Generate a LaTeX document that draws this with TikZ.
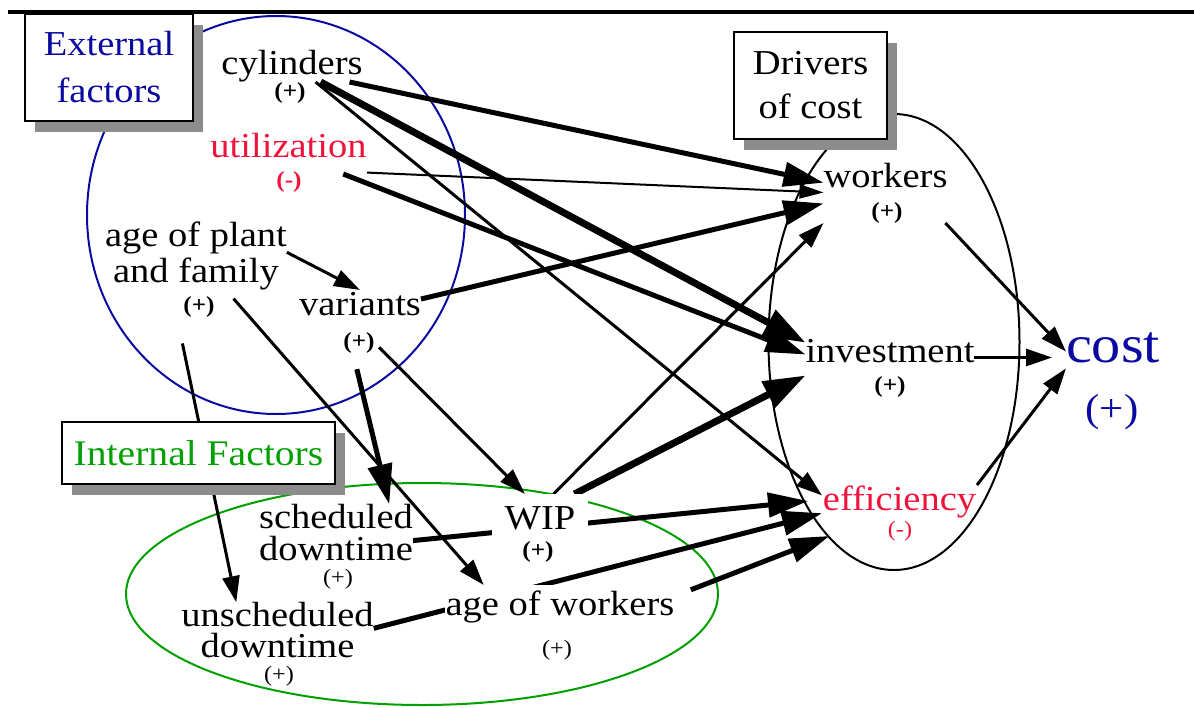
\documentclass[tikz,border=0pt]{standalone}
\usepackage{fontspec}
\setmainfont[FakeStretch=1.1]{Liberation Serif}
\usepackage{xcolor}
\usetikzlibrary{arrows.meta, backgrounds, shadows}
\definecolor{extblue}{HTML}{0A0AA0}
\definecolor{intgreen}{HTML}{00A000}
\definecolor{negred}{HTML}{F0143C}
\definecolor{shadowgray}{HTML}{8C8C8C}

\begin{document}
\begin{tikzpicture}[
  x=1pt, y=-1pt,
  factor/.style={inner sep=0pt, outer sep=0pt, anchor=base, font=\fontsize{35}{36}\selectfont, text height=25pt, text depth=8pt},
  factorml/.style={inner sep=0pt, outer sep=0pt, align=center},
  signtxt/.style={inner sep=0pt, font=\fontsize{23}{24}\selectfont\bfseries},
  plainsign/.style={inner sep=0pt, font=\fontsize{22}{24}\selectfont},
  labelbox/.style={draw, line width=2.5pt, fill=white, inner sep=0pt, align=center,
    drop shadow={shadow xshift=10pt, shadow yshift=-11pt, fill=shadowgray, opacity=1}},
  thinlink/.style={-{Triangle[length=24pt, width=14pt]}, line width=2pt},
  midlink/.style={-{Triangle[length=26pt, width=17pt]}, line width=3pt},
  thicklink/.style={-{Triangle[length=40pt, width=24pt]}, line width=5pt},
  heavylink/.style={-{Triangle[length=42pt, width=28pt]}, line width=7pt},
]
\useasboundingbox (0,0) rectangle (1194,707);
\draw[line width=3.5pt] (8,12) -- (1194,12);

\node[labelbox, minimum width=168pt, minimum height=107pt, text=extblue, font=\fontsize{35}{47}\selectfont] (ext) at (109,67.5) {External\\factors};
\node[labelbox, minimum width=153pt, minimum height=107pt, font=\fontsize{35}{44}\selectfont] (drv) at (810.5,85.5) {Drivers\\of cost};
\node[labelbox, minimum width=273pt, minimum height=62pt, text=intgreen, font=\fontsize{36}{40}\selectfont] (int) at (198.5,453) {Internal Factors};

\node[factor, minimum width=140pt] (cyl) at (292,74) {cylinders};
\node[signtxt] (cylsg) at (290,93) {(+)};
\node[factor, minimum width=157pt, text depth=17pt, text=negred] (util) at (288.5,157) {utilization};
\node[signtxt, text=negred] (utilsg) at (289,182) {(-)};
\node[factorml, font=\fontsize{35}{36}\selectfont] (plant) at (196,255.5) {age of plant\\and family};
\node[signtxt] (plantsg) at (199,307) {(+)};
\node[factor, minimum width=120pt] (var) at (360,315) {variants};
\node[signtxt] (varsg) at (359,343) {(+)};

\node[factor, minimum width=123pt, text depth=36pt] (workers) at (885.5,187) {workers};
\node[signtxt] (workerssg) at (887,213) {(+)};
\node[factor, minimum width=168pt, text depth=16pt] (inv) at (890,362) {investment};
\node[signtxt] (invsg) at (890,387) {(+)};
\node[factor, minimum width=155pt, text depth=26pt, text=negred] (eff) at (899.5,510) {efficiency};
\node[plainsign, text=negred] (effsg) at (900,531) {(-)};
\node[factor, minimum width=94pt, text height=32pt, text depth=16pt, text=extblue, font=\fontsize{53}{55}\selectfont] (cost) at (1113,362) {cost};
\node[plainsign, text=extblue, font=\fontsize{39}{40}\selectfont] (costsg) at (1112,412) {(+)};

\node[factorml, font=\fontsize{35}{32}\selectfont] (sched) at (336,532.5) {scheduled\\downtime};
\node[plainsign] (schedsg) at (338,579) {(+)};
\node[factor, minimum width=96pt, text height=35pt, fill=white] (wip) at (540,529) {WIP};
\node[signtxt] (wipsg) at (538,552) {(+)};
\node[factorml, font=\fontsize{35}{31}\selectfont] (unsched) at (277.5,630) {unscheduled\\downtime};
\node[plainsign] (unschedsg) at (279,676) {(+)};
\node[factor, minimum width=230pt, text height=30pt, fill=white] (agew) at (560,615) {age of workers};
\node[plainsign] (agewsg) at (557,650) {(+)};

\begin{scope}[on background layer]
\draw[extblue, line width=2pt] (276,215) ellipse [x radius=189, y radius=199];
\draw[intgreen, line width=2pt] (422,594) ellipse [x radius=296, y radius=111];
\draw[line width=2pt] (894,342) ellipse [x radius=125.5, y radius=228];

\draw[thicklink] (cyl.-16.8) -- (workers.171.3);
\draw[heavylink] (cyl.-30) -- (inv.170.3);
\draw[midlink] (cyl.-35.3) -- (eff.169.4);
\draw[thinlink] (util.-14.2) -- (workers.west);
\draw[thicklink] (util.-21.8) -- (inv.178.3);
\draw[midlink] (plant.2.5) -- (var.north);
\draw[midlink, shorten <=12pt] (plant.-49.8) -- (agew.166.8);
\draw[midlink, shorten <=55pt] (plant.-126.7) -- (unsched.146.9);
\draw[thicklink] (var.7.1) -- (workers.190.3);
\draw[thicklink, shorten <=16pt] (varsg.-119) -- (sched.28.3);
\draw[midlink, shorten <=6pt] (varsg.east) -- (wip.125);
\draw[midlink] (wip.58.8) -- (workers.south west);
\draw[heavylink] (wip.32.3) -- (inv.192.1);
\draw[thicklink, shorten >=14pt] (sched.-6.2) -- (eff.172.7);
\draw[thicklink] (unsched.1.3) -- (eff.182.1);
\draw[thicklink, shorten <=17pt] (agew.4.3) -- (eff.200.6);
\draw[midlink] (workers.-27.9) -- (cost.177.8);
\draw[midlink, shorten >=14pt] (inv.east) -- (inv.east -| cost.west);
\draw[midlink] (eff.north east) -- (cost.197);
\end{scope}
\end{tikzpicture}
\end{document}
